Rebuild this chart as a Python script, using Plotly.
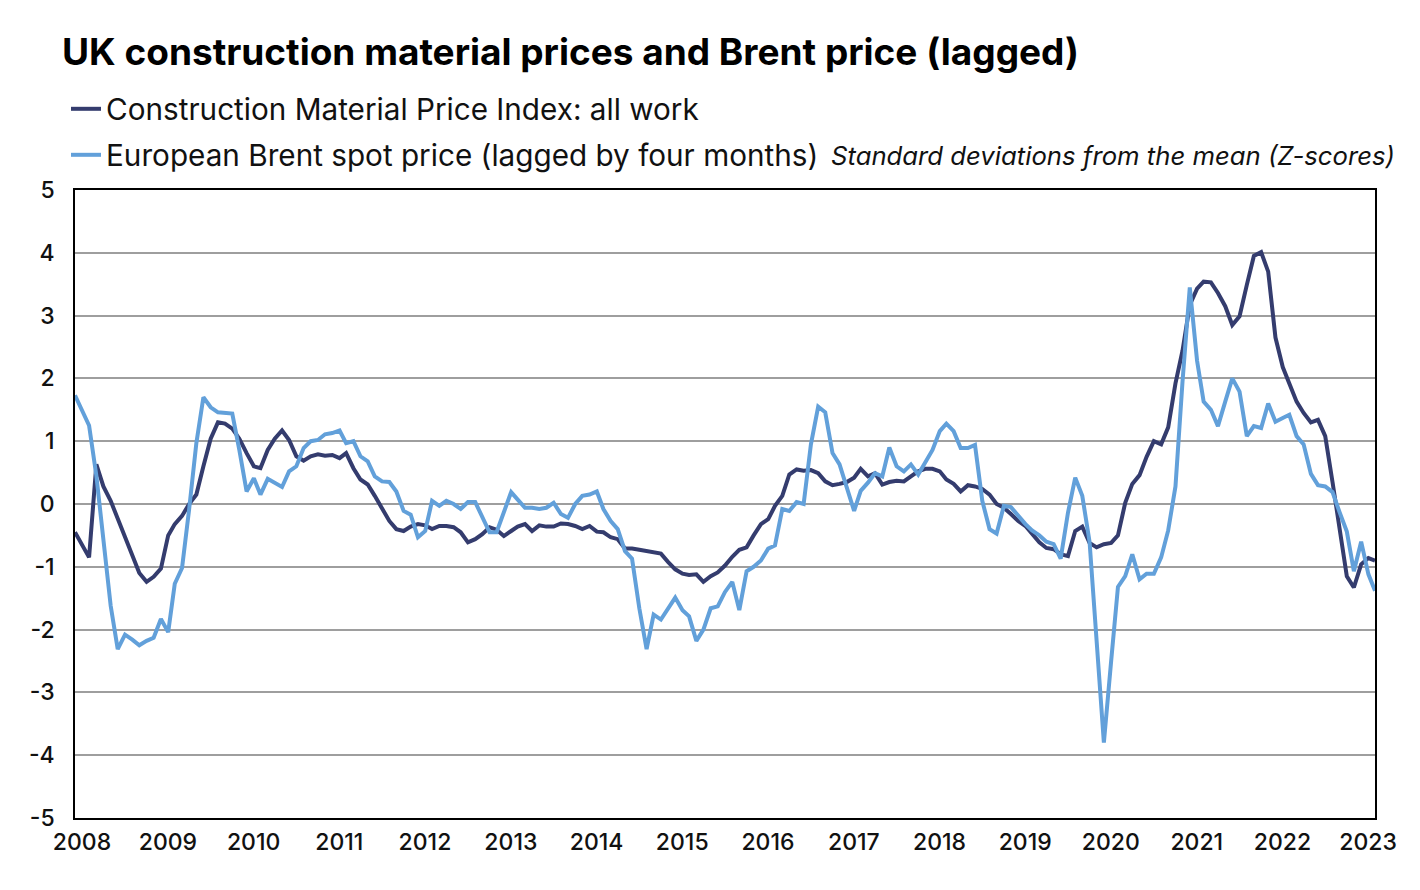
import pandas as pd
import plotly.graph_objects as go

# ── Data (monthly, Jan 2008 - Mar 2023), z-scores ──
months = pd.date_range("2008-01-01", "2023-03-01", freq="MS")

cmpi_all_work = [
    -0.45, -0.66, -0.85, 0.63, 0.28, 0.05, -0.24, -0.55, -0.82, -1.10, -1.24, -1.16,
    -1.03, -0.50, -0.32, -0.19, 0.00, 0.15, 0.60, 1.04, 1.30, 1.28, 1.20, 1.04,
    0.81, 0.60, 0.57, 0.86, 1.04, 1.17, 1.02, 0.76, 0.69, 0.76, 0.79, 0.77,
    0.78, 0.73, 0.81, 0.57, 0.39, 0.31, 0.13, -0.06, -0.27, -0.40, -0.43, -0.36,
    -0.32, -0.34, -0.40, -0.35, -0.35, -0.37, -0.45, -0.61, -0.56, -0.48, -0.37, -0.41,
    -0.51, -0.43, -0.36, -0.32, -0.43, -0.34, -0.36, -0.36, -0.31, -0.32, -0.35, -0.40,
    -0.35, -0.44, -0.45, -0.53, -0.56, -0.71, -0.71, -0.73, -0.75, -0.76, -0.79, -0.92,
    -1.04, -1.11, -1.13, -1.12, -1.24, -1.15, -1.09, -0.98, -0.84, -0.73, -0.69, -0.50,
    -0.32, -0.24, -0.03, 0.13, 0.47, 0.55, 0.53, 0.54, 0.49, 0.36, 0.30, 0.32,
    0.35, 0.42, 0.56, 0.44, 0.49, 0.31, 0.35, 0.37, 0.36, 0.44, 0.52, 0.56,
    0.56, 0.52, 0.39, 0.32, 0.20, 0.30, 0.28, 0.24, 0.15, 0.00, -0.06, -0.16,
    -0.27, -0.35, -0.48, -0.61, -0.70, -0.72, -0.80, -0.83, -0.43, -0.36, -0.62, -0.69,
    -0.64, -0.62, -0.50, 0.02, 0.32, 0.46, 0.75, 1.00, 0.95, 1.22, 1.92, 2.44,
    3.17, 3.43, 3.54, 3.53, 3.36, 3.15, 2.85, 2.99, 3.49, 3.95, 4.01, 3.70,
    2.65, 2.18, 1.92, 1.63, 1.45, 1.30, 1.34, 1.08, 0.35, -0.39, -1.15, -1.33,
    -0.96, -0.86, -0.90,
]

brent_lagged = [
    1.73, 1.49, 1.25, 0.45, -0.60, -1.62, -2.31, -2.08, -2.16, -2.25, -2.18, -2.13,
    -1.83, -2.04, -1.27, -1.02, -0.09, 0.97, 1.70, 1.54, 1.46, 1.45, 1.44, 0.86,
    0.20, 0.41, 0.15, 0.40, 0.34, 0.27, 0.52, 0.60, 0.89, 1.00, 1.02, 1.11,
    1.13, 1.17, 0.97, 1.00, 0.76, 0.68, 0.44, 0.36, 0.35, 0.20, -0.11, -0.17,
    -0.53, -0.43, 0.05, -0.03, 0.05, 0.00, -0.08, 0.03, 0.03, -0.19, -0.45, -0.45,
    -0.14, 0.19, 0.07, -0.06, -0.06, -0.08, -0.06, 0.02, -0.16, -0.22, 0.00, 0.13,
    0.15, 0.20, -0.08, -0.27, -0.40, -0.75, -0.87, -1.66, -2.31, -1.76, -1.84, -1.66,
    -1.49, -1.69, -1.79, -2.18, -2.00, -1.66, -1.63, -1.40, -1.24, -1.69, -1.07, -1.00,
    -0.90, -0.71, -0.66, -0.08, -0.11, 0.03, 0.00, 0.95, 1.55, 1.46, 0.81, 0.63,
    0.26, -0.11, 0.21, 0.34, 0.49, 0.44, 0.90, 0.60, 0.52, 0.63, 0.47, 0.67,
    0.86, 1.16, 1.28, 1.16, 0.89, 0.89, 0.94, 0.05, -0.40, -0.47, -0.03, -0.05,
    -0.19, -0.32, -0.42, -0.50, -0.60, -0.64, -0.87, -0.14, 0.42, 0.13, -0.60, -2.20,
    -3.80, -2.50, -1.32, -1.15, -0.80, -1.20, -1.11, -1.11, -0.85, -0.42, 0.28, 1.95,
    3.45, 2.28, 1.63, 1.50, 1.24, 1.63, 2.00, 1.79, 1.08, 1.24, 1.21, 1.60,
    1.31, 1.37, 1.42, 1.08, 0.95, 0.48, 0.30, 0.28, 0.19, -0.13, -0.44, -1.07,
    -0.60, -1.12, -1.38,
]

year_ticks = pd.date_range("2008-01-01", "2023-01-01", freq="YS")
year_labels = [str(d.year) for d in year_ticks]
y_ticks = [5, 4, 3, 2, 1, 0, -1, -2, -3, -4, -5]
y_labels = [str(v) for v in y_ticks]  # plain hyphen, like the original

DARK = "#343c6e"
LIGHT = "#62a0da"
FONT = "Inter"

# page body has an 8px default margin, so everything is placed 8px up/left
PLOT_L, PLOT_T, PLOT_W, PLOT_H = 67, 182, 1300, 628

# ── Figure ────────────────────────────────────────────
fig = go.Figure()

fig.add_trace(go.Scatter(
    x=months, y=cmpi_all_work, mode="lines",
    name="Construction Material Price Index: all work",
    line=dict(color=DARK, width=4),
    legend="legend", showlegend=True,
))
fig.add_trace(go.Scatter(
    x=months, y=brent_lagged, mode="lines",
    name="European Brent spot price (lagged by four months)",
    line=dict(color=LIGHT, width=4),
    legend="legend2", showlegend=True,
))

legend_style = dict(
    font=dict(family=FONT, size=29.7, color="#111111"),
    bgcolor="rgba(0,0,0,0)",
    xanchor="left", yanchor="middle",
    itemwidth=30,
)

fig.update_layout(
    width=1420, height=890,
    margin=dict(l=PLOT_L, r=1420 - PLOT_L - PLOT_W, t=PLOT_T, b=890 - PLOT_T - PLOT_H),
    paper_bgcolor="white", plot_bgcolor="white",
    showlegend=True,
    font=dict(family=FONT, color="#111111"),
    title=dict(
        text="<b>UK construction material prices and Brent price (lagged)</b>",
        font=dict(family=FONT, size=37, color="#000000"),
        x=54 / 1420, xanchor="left",
        y=1 - 44 / 890, yanchor="middle",
    ),
    legend=dict(x=(58 - PLOT_L) / PLOT_W, y=1 + (PLOT_T - 101) / PLOT_H, **legend_style),
    legend2=dict(x=(58 - PLOT_L) / PLOT_W, y=1 + (PLOT_T - 147) / PLOT_H, **legend_style),
    annotations=[dict(
        text="<i>Standard deviations from the mean (Z-scores)</i>",
        xref="paper", yref="paper",
        x=(821 - PLOT_L) / PLOT_W, y=1 + (PLOT_T - 147) / PLOT_H,
        xanchor="left", yanchor="middle", showarrow=False,
        font=dict(family=FONT, size=25.7, color="#111111"),
    )],
)

fig.update_xaxes(
    range=[months[0], months[-1]],
    tickvals=year_ticks, ticktext=year_labels,
    showgrid=False, ticks="",
    showline=True, mirror=True, linecolor="#000000", linewidth=1.5,
    tickfont=dict(family=FONT, size=23, color="#111111", weight=500),
    ticklabelshift=7, ticklabelstandoff=3,
)
fig.update_yaxes(
    range=[-5, 5],
    tickvals=y_ticks, ticktext=y_labels,
    showgrid=True, gridcolor="#9e9e9e", gridwidth=2,
    zeroline=False, ticks="",
    showline=True, mirror=True, linecolor="#000000", linewidth=1.5,
    tickfont=dict(family=FONT, size=23, color="#111111", weight=500),
    ticklabelstandoff=14,
)

fig.write_html("out.html")
